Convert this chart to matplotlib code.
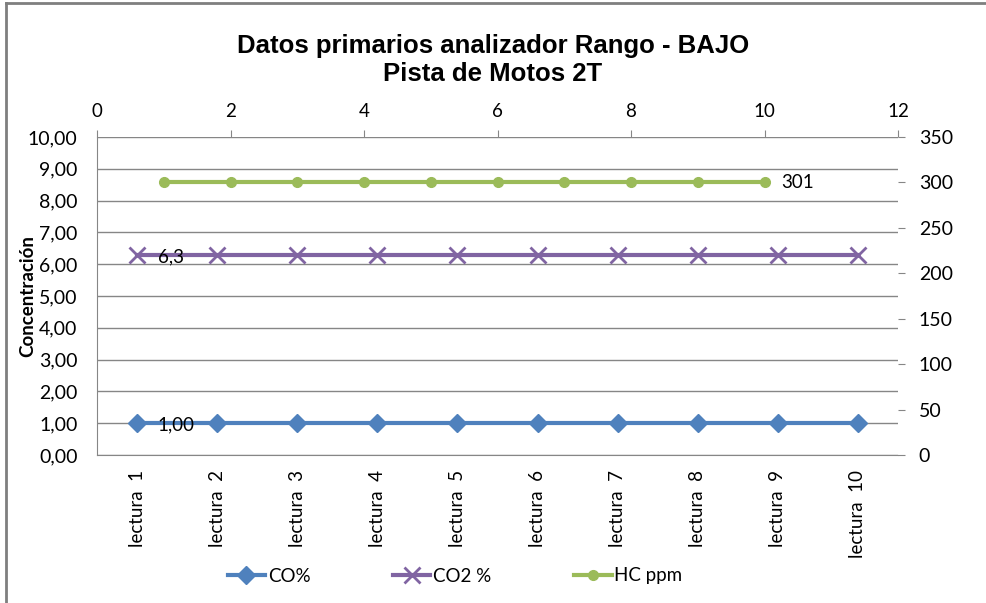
import matplotlib.pyplot as plt
from matplotlib.ticker import FuncFormatter, MultipleLocator
from matplotlib.lines import Line2D

# ---- data ----
categorias = ["lectura  1", "lectura  2", "lectura  3", "lectura  4", "lectura  5",
              "lectura  6", "lectura  7", "lectura  8", "lectura  9", "lectura  10"]
co_pct = [1.00, 1.00, 1.00, 1.00, 1.00, 1.00, 1.00, 1.00, 1.00, 1.00]
co2_pct = [6.3, 6.3, 6.3, 6.3, 6.3, 6.3, 6.3, 6.3, 6.3, 6.3]
hc_x = [1, 2, 3, 4, 5, 6, 7, 8, 9, 10]
hc_ppm = [301, 301, 301, 301, 301, 301, 301, 301, 301, 301]

AZUL = '#4F81BD'
MORADO = '#8064A2'
VERDE = '#9BBB59'
GRIS = '#868686'

plt.rcParams['font.family'] = ['Lato', 'DejaVu Sans']
titulo_font = ['Liberation Sans', 'DejaVu Sans']

fig = plt.figure(figsize=(9.86, 6.03), dpi=100)
pos = [97 / 986, 1 - 455 / 603, (898 - 97) / 986, (455 - 137) / 603]
ax = fig.add_axes(pos)
ax2 = fig.add_axes(pos, frameon=False)

# eje primario: categorias
xs = list(range(len(categorias)))
ax.plot(xs, co_pct, color=AZUL, lw=3, marker='D', ms=9, zorder=3)
ax.plot(xs, co2_pct, color=MORADO, lw=3, marker='x', ms=12, mew=2, zorder=3)
ax.set_xlim(-0.5, 9.5)
ax.set_ylim(0, 10)
ax.yaxis.set_major_locator(MultipleLocator(1))
ax.yaxis.set_major_formatter(FuncFormatter(lambda v, p: f"{v:.2f}".replace('.', ',')))
ax.set_xticks(xs)
ax.set_xticklabels(categorias, rotation=90, fontsize=13.5)
ax.tick_params(axis='x', length=0, pad=11)
ax.tick_params(axis='y', length=0, labelsize=14, pad=14)
ax.grid(axis='y', color=GRIS, lw=1)
ax.set_axisbelow(True)
for s in ['top', 'right']:
    ax.spines[s].set_visible(False)
for s in ['left', 'bottom']:
    ax.spines[s].set_color(GRIS)
ax.set_ylabel('Concentración', fontsize=13.5, fontweight='bold')
ax.yaxis.set_label_coords((36 - 97) / 801, 0.5)

# etiquetas de datos
ax.annotate('1,00', (xs[0], co_pct[0]), xytext=(15, -1.5), textcoords='offset points',
            ha='left', va='center', fontsize=13.5)
ax.annotate('6,3', (xs[0], co2_pct[0]), xytext=(15, -1.5), textcoords='offset points',
            ha='left', va='center', fontsize=13.5)

# eje secundario: HC ppm
ax2.plot(hc_x, hc_ppm, color=VERDE, lw=3, marker='o', ms=7, zorder=3)
ax2.set_xlim(0, 12)
ax2.set_ylim(0, 350)
ax2.xaxis.set_major_locator(MultipleLocator(2))
ax2.yaxis.set_major_locator(MultipleLocator(50))
ax2.xaxis.tick_top()
ax2.yaxis.tick_right()
ax2.tick_params(axis='x', color=GRIS, length=5, labelsize=13.5, pad=7)
ax2.tick_params(axis='y', color=GRIS, length=5, labelsize=14, pad=10)
ax2.spines['top'].set_visible(True)
ax2.spines['right'].set_visible(True)
ax2.spines['top'].set_color(GRIS)
ax2.spines['right'].set_color(GRIS)
ax2.annotate('301', (hc_x[-1], hc_ppm[-1]), xytext=(12, -1), textcoords='offset points',
             ha='left', va='center', fontsize=13.5)

fig.suptitle('Datos primarios analizador Rango - BAJO\nPista de Motos 2T',
             y=1 - 60 / 603, va='center', fontsize=18.5, fontweight='bold', family=titulo_font,
             linespacing=1.2)

handles = [Line2D([], [], color=AZUL, lw=3, marker='D', ms=9),
           Line2D([], [], color=MORADO, lw=3, marker='x', ms=12, mew=2),
           Line2D([], [], color=VERDE, lw=3, marker='o', ms=7)]
fig.legend(handles, ['CO%', 'CO2 %', 'HC ppm'], loc='center', ncol=3,
           bbox_to_anchor=(455 / 986, 1 - 576 / 603), frameon=False, fontsize=13.5,
           handlelength=2.0, handletextpad=0.15, columnspacing=4.4)

# marco exterior
fig.add_artist(Line2D([6 / 986, 6 / 986], [0, 1 - 3 / 603], color='#7F7F7F', lw=2,
                      transform=fig.transFigure))
fig.add_artist(Line2D([6 / 986, 1], [1 - 3 / 603, 1 - 3 / 603], color='#7F7F7F', lw=2,
                      transform=fig.transFigure))

fig.savefig('out.png', dpi=100)
